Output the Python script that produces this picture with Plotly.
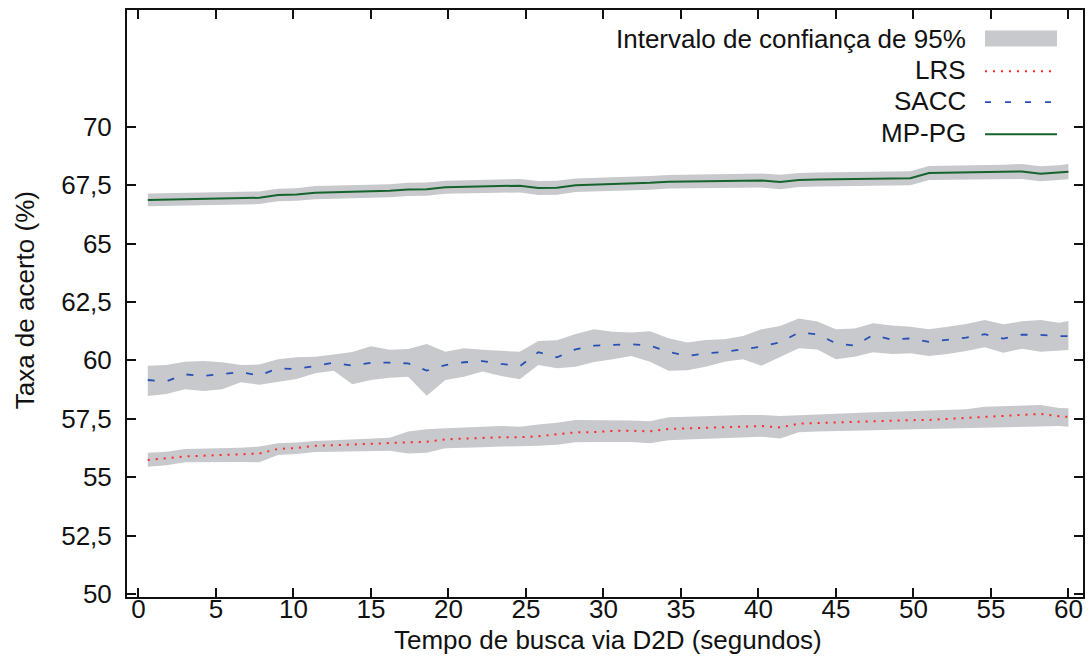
import plotly.graph_objects as go

# Sampling instants (s)
tempo = [0.6, 1.8, 3.0, 4.2, 5.4, 6.6, 7.8, 9.0, 10.2, 11.4, 12.6, 13.8, 15.0, 16.2,
         17.4, 18.6, 19.8, 21.0, 22.2, 23.4, 24.6, 25.8, 27.0, 28.2, 29.4, 30.6, 31.8,
         33.0, 34.2, 35.4, 36.6, 37.8, 39.0, 40.2, 41.4, 42.6, 43.8, 45.0, 46.2, 47.4,
         48.6, 49.8, 51.0, 52.2, 53.4, 54.6, 55.8, 57.0, 58.2, 59.4, 60.0]

# LRS: mean hit rate and 95% CI bounds (%)
lrs = [55.74, 55.81, 55.89, 55.92, 55.96, 55.99, 56.01, 56.21, 56.25, 56.34, 56.37, 56.39,
       56.42, 56.45, 56.49, 56.52, 56.62, 56.66, 56.68, 56.71, 56.71, 56.75, 56.84, 56.92,
       56.93, 56.98, 56.99, 56.96, 57.06, 57.09, 57.12, 57.15, 57.19, 57.19, 57.13, 57.29,
       57.32, 57.35, 57.36, 57.39, 57.42, 57.44, 57.45, 57.49, 57.55, 57.59, 57.63, 57.68,
       57.71, 57.61, 57.58]
lrs_sup = [56.05, 56.09, 56.21, 56.22, 56.25, 56.26, 56.31, 56.45, 56.48, 56.55, 56.58, 56.61,
           56.65, 56.69, 56.96, 57.05, 57.09, 57.14, 57.16, 57.19, 57.16, 57.26, 57.33, 57.45,
           57.45, 57.45, 57.43, 57.39, 57.56, 57.59, 57.62, 57.63, 57.66, 57.66, 57.62, 57.65,
           57.69, 57.72, 57.75, 57.78, 57.80, 57.83, 57.86, 57.88, 57.91, 58.02, 58.05, 58.08,
           58.09, 57.96, 57.95]
lrs_inf = [55.45, 55.51, 55.64, 55.65, 55.66, 55.65, 55.64, 55.95, 55.99, 56.08, 56.09, 56.11,
           56.12, 56.13, 56.01, 56.05, 56.24, 56.25, 56.28, 56.31, 56.32, 56.35, 56.39, 56.49,
           56.51, 56.52, 56.51, 56.45, 56.58, 56.61, 56.64, 56.67, 56.69, 56.73, 56.66, 56.92,
           56.95, 56.96, 56.99, 57.01, 57.03, 57.05, 57.06, 57.09, 57.11, 57.12, 57.14, 57.16,
           57.18, 57.19, 57.16]

# SACC
sacc = [59.16, 59.10, 59.40, 59.33, 59.42, 59.50, 59.35, 59.66, 59.63, 59.77, 59.90, 59.77,
        59.90, 59.90, 59.87, 59.56, 59.80, 59.92, 59.97, 59.85, 59.75, 60.35, 60.13, 60.47,
        60.63, 60.66, 60.69, 60.63, 60.36, 60.19, 60.30, 60.36, 60.47, 60.59, 60.77, 61.19,
        61.12, 60.73, 60.63, 61.09, 60.89, 60.94, 60.79, 60.87, 60.97, 61.12, 60.93, 61.10,
        61.09, 61.04, 61.04]
sacc_sup = [59.77, 59.80, 59.94, 59.97, 59.92, 59.80, 59.82, 60.05, 60.13, 60.16, 60.25, 60.36,
            60.60, 60.45, 60.49, 60.70, 60.37, 60.52, 60.45, 60.42, 60.37, 60.83, 60.86, 61.13,
            61.33, 61.23, 61.19, 61.25, 60.95, 60.77, 60.87, 60.90, 61.04, 61.33, 61.47, 61.79,
            61.66, 61.33, 61.37, 61.59, 61.49, 61.44, 61.33, 61.44, 61.56, 61.73, 61.55, 61.67,
            61.73, 61.61, 61.69]
sacc_inf = [58.48, 58.56, 58.76, 58.69, 58.76, 59.06, 58.96, 59.08, 59.20, 59.45, 59.56, 58.98,
            59.16, 59.26, 59.30, 58.49, 59.16, 59.30, 59.52, 59.33, 59.19, 59.80, 59.66, 59.73,
            59.93, 60.05, 60.19, 59.94, 59.56, 59.58, 59.73, 59.94, 60.05, 59.77, 60.16, 60.52,
            60.47, 60.05, 60.16, 60.35, 60.27, 60.30, 60.19, 60.27, 60.40, 60.56, 60.33, 60.50,
            60.37, 60.40, 60.44]

# MP-PG: mean and CI half-width
mppg = [66.87, 66.88, 66.92, 66.93, 66.94, 66.95, 66.96, 67.08, 67.10, 67.18, 67.20, 67.22,
        67.24, 67.26, 67.32, 67.33, 67.41, 67.43, 67.44, 67.46, 67.48, 67.38, 67.39, 67.50,
        67.52, 67.54, 67.56, 67.60, 67.65, 67.66, 67.67, 67.68, 67.69, 67.70, 67.64, 67.72,
        67.74, 67.75, 67.77, 67.78, 67.79, 67.80, 68.02, 68.03, 68.04, 68.05, 68.07, 68.09,
        67.99, 68.03, 68.08]
mppg_ic = [0.27, 0.27, 0.27, 0.27, 0.27, 0.27, 0.27, 0.27, 0.27, 0.28, 0.28, 0.28, 0.28, 0.28,
           0.28, 0.28, 0.28, 0.28, 0.28, 0.28, 0.29, 0.30, 0.30, 0.29, 0.29, 0.29, 0.29, 0.29,
           0.29, 0.29, 0.29, 0.29, 0.29, 0.30, 0.31, 0.30, 0.30, 0.30, 0.30, 0.30, 0.30, 0.30,
           0.30, 0.30, 0.30, 0.31, 0.31, 0.32, 0.32, 0.32, 0.33]

x_ticks = [0, 5, 10, 15, 20, 25, 30, 35, 40, 45, 50, 55, 60]
y_ticks = [50, 52.5, 55, 57.5, 60, 62.5, 65, 67.5, 70]
y_tick_text = ["50", "52,5", "55", "57,5", "60", "62,5", "65", "67,5", "70"]

GRAY = "rgb(200,201,204)"
RED = "rgb(255,40,40)"
BLUE = "rgb(40,80,180)"
GREEN = "rgb(22,100,45)"
FONT = "Liberation Sans, Arial, sans-serif"
INK = "#111111"
FS = 26

fig = go.Figure()


def add_band(lo, hi):
    fig.add_trace(go.Scatter(x=tempo, y=lo, mode="lines", line=dict(width=0, color=GRAY),
                             showlegend=False, hoverinfo="skip"))
    fig.add_trace(go.Scatter(x=tempo, y=hi, mode="lines", line=dict(width=0, color=GRAY),
                             fill="tonexty", fillcolor=GRAY, showlegend=False, hoverinfo="skip"))


add_band(lrs_inf, lrs_sup)
add_band(sacc_inf, sacc_sup)
add_band([m - c for m, c in zip(mppg, mppg_ic)], [m + c for m, c in zip(mppg, mppg_ic)])

fig.add_trace(go.Scatter(x=tempo, y=lrs, mode="lines", name="LRS",
                         line=dict(color=RED, width=2, dash="2px,6px")))
fig.add_trace(go.Scatter(x=tempo, y=sacc, mode="lines", name="SACC",
                         line=dict(color=BLUE, width=1.8, dash="7px,13px")))
fig.add_trace(go.Scatter(x=tempo, y=mppg, mode="lines", name="MP-PG",
                         line=dict(color=GREEN, width=2)))

axis_common = dict(showline=True, linecolor=INK, linewidth=2, mirror="ticks",
                   ticks="inside", ticklen=9, tickwidth=1.5, tickcolor=INK,
                   showgrid=False, zeroline=False, automargin=False,
                   tickfont=dict(family=FONT, size=FS, color=INK))

fig.update_xaxes(range=[-0.74, 60.94], tickvals=x_ticks, ticklabelstandoff=-12,
                 **axis_common)
fig.update_yaxes(range=[49.87, 75.0], tickvals=y_ticks, ticktext=y_tick_text,
                 ticklabelstandoff=8, **axis_common)

# Axis titles
fig.add_annotation(xref="paper", yref="paper", x=0.503, y=-0.073, xanchor="center",
                   yanchor="middle", text="Tempo de busca via D2D (segundos)",
                   showarrow=False, font=dict(family=FONT, size=FS, color=INK))
fig.add_annotation(xref="paper", yref="paper", x=-0.107, y=0.505, xanchor="center",
                   yanchor="middle", text="Taxa de acerto (%)", textangle=-90,
                   showarrow=False, font=dict(family=FONT, size=FS, color=INK))

# Legend drawn inside the top-right corner: right-aligned labels, samples on the right
legend_items = [
    ("Intervalo de confiança de 95%", 0.9514, None),
    ("LRS", 0.8978, dict(color=RED, width=2, dash="2px,6px")),
    ("SACC", 0.8450, dict(color=BLUE, width=1.8, dash="6px,14px")),
    ("MP-PG", 0.7905, dict(color=GREEN, width=2)),
]
sx0, sx1 = 0.8975, 0.9728
for label, yy, style in legend_items:
    fig.add_annotation(xref="paper", yref="paper", x=0.8792, y=yy, xanchor="right",
                       yanchor="middle", text=label, showarrow=False,
                       font=dict(family=FONT, size=FS, color=INK))
    if style is None:
        fig.add_shape(type="rect", xref="paper", yref="paper", x0=sx0, x1=sx1,
                      y0=yy - 0.0136, y1=yy + 0.0136, fillcolor=GRAY, line=dict(width=0))
    else:
        fig.add_shape(type="line", xref="paper", yref="paper", x0=sx0, x1=sx1,
                      y0=yy - 0.002, y1=yy - 0.002, line=style)

fig.update_layout(width=1092, height=660, showlegend=False,
                  margin=dict(l=127, r=9, t=10, b=63, autoexpand=False),
                  paper_bgcolor="white", plot_bgcolor="white",
                  font=dict(family=FONT, color=INK))

fig.write_html("out.html")
